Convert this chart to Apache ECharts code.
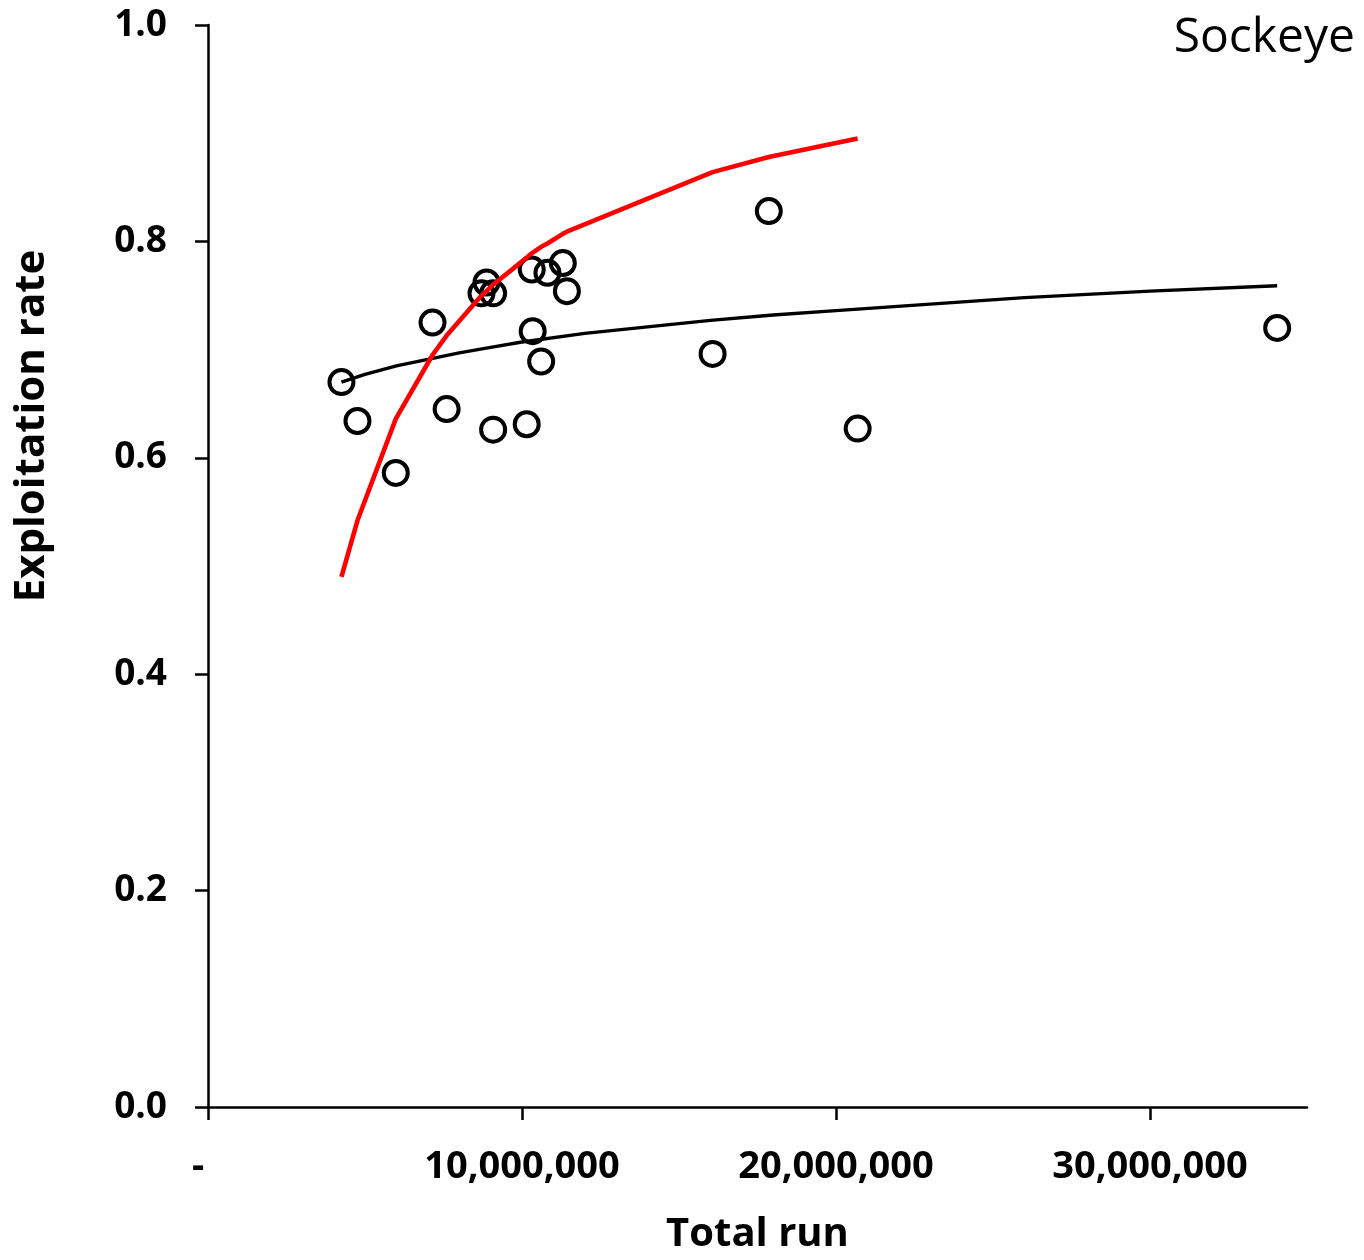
<!DOCTYPE html>
<html>
<head>
<meta charset="utf-8">
<title>Sockeye exploitation rate vs total run</title>
<script src="https://cdn.jsdelivr.net/npm/echarts@6/dist/echarts.min.js"></script>
<style>
  html, body { margin: 0; padding: 0; background: #fff; }
  #chart { width: 1364px; height: 1260px; }
</style>
</head>
<body>
<div id="chart"></div>
<script>
// Observed years: total run and exploitation rate
const runs = [4.25e6, 4.76e6, 5.98e6, 7.15e6, 7.60e6, 8.71e6, 8.87e6, 9.08e6, 9.08e6, 10.15e6,
              10.31e6, 10.34e6, 10.61e6, 10.81e6, 11.30e6, 11.43e6, 16.07e6, 17.86e6, 20.69e6, 34.05e6];
const rates = [0.670, 0.634, 0.586, 0.725, 0.645, 0.752, 0.762, 0.752, 0.626, 0.631,
               0.774, 0.717, 0.689, 0.771, 0.780, 0.754, 0.696, 0.828, 0.627, 0.720];

// Fixed-escapement curve (red)
const escRuns = [4.25e6, 4.76e6, 5.98e6, 7.15e6, 7.60e6, 8.71e6, 8.87e6, 9.08e6, 10.15e6, 10.31e6,
                 10.34e6, 10.61e6, 10.81e6, 11.30e6, 11.43e6, 16.07e6, 17.86e6, 20.69e6];
const escRates = [0.490, 0.542, 0.636, 0.695, 0.713, 0.750, 0.754, 0.760, 0.785, 0.789,
                  0.789, 0.795, 0.798, 0.807, 0.809, 0.864, 0.878, 0.895];

// Logarithmic trend (black)
const trendRuns = [4.25e6, 5e6, 6e6, 7e6, 8e6, 9e6, 10e6, 12e6, 14e6, 16e6,
                   18e6, 20e6, 23e6, 26e6, 30e6, 34.05e6];
const trendRates = [0.670, 0.677, 0.685, 0.691, 0.697, 0.702, 0.707, 0.715, 0.721, 0.727,
                    0.732, 0.736, 0.742, 0.748, 0.754, 0.759];

const xTicks = [0, 10000000, 20000000, 30000000];
const yTicks = [0, 0.2, 0.4, 0.6, 0.8, 1.0];

const pairs = (xs, ys) => xs.map((x, i) => [x, ys[i]]);
const font = '"Open Sans", "Noto Sans", sans-serif';

const chart = echarts.init(document.getElementById('chart'), null, { renderer: 'canvas' });
chart.setOption({
  animation: false,
  backgroundColor: '#ffffff',
  grid: { left: 208, top: 25, right: 57, bottom: 151, containLabel: false },
  xAxis: {
    type: 'value',
    min: 0,
    max: 35000000,
    interval: 10000000,
    splitLine: { show: false },
    axisLine: { show: true, onZero: false, lineStyle: { color: '#000', width: 2.5 } },
    axisTick: { show: true, inside: false, length: 13, customValues: xTicks, lineStyle: { color: '#000', width: 2.5 } },
    axisLabel: {
      customValues: xTicks,
      margin: 41,
      color: '#000',
      fontFamily: font,
      fontWeight: 'bold',
      fontSize: 38,
      formatter: v => v === 0 ? '-\u00a0\u00a0' : v.toLocaleString('en-US')
    },
    name: 'Total run',
    nameLocation: 'middle',
    nameGap: 108,
    nameTextStyle: { color: '#000', fontFamily: font, fontWeight: 'bold', fontSize: 40 }
  },
  yAxis: {
    type: 'value',
    min: 0,
    max: 1,
    interval: 0.2,
    splitLine: { show: false },
    axisLine: { show: true, onZero: false, lineStyle: { color: '#000', width: 2.5 } },
    axisTick: { show: true, inside: false, length: 13, customValues: yTicks, lineStyle: { color: '#000', width: 2.5 } },
    axisLabel: {
      customValues: yTicks,
      margin: 41,
      color: '#000',
      fontFamily: font,
      fontWeight: 'bold',
      fontSize: 37,
      formatter: v => v.toFixed(1)
    }
  },
  graphic: [
    {
      type: 'text',
      x: 32,
      y: 426,
      rotation: Math.PI / 2,
      style: {
        text: 'Exploitation rate',
        fill: '#000',
        font: 'bold 42px ' + font,
        align: 'center',
        verticalAlign: 'middle'
      }
    },
    {
      type: 'text',
      right: 9,
      top: 14,
      style: {
        text: 'Sockeye',
        fill: '#000',
        font: '48px ' + font
      }
    }
  ],
  series: [
    {
      type: 'scatter',
      data: pairs(runs, rates),
      symbol: 'circle',
      symbolSize: 24,
      itemStyle: { color: 'rgba(255,255,255,0)', borderColor: '#000', borderWidth: 4, opacity: 1 },
      z: 2
    },
    {
      type: 'line',
      data: pairs(trendRuns, trendRates),
      showSymbol: false,
      lineStyle: { color: '#000', width: 3.4 },
      z: 3
    },
    {
      type: 'line',
      data: pairs(escRuns, escRates),
      showSymbol: false,
      lineStyle: { color: '#ff0000', width: 4.6 },
      z: 4
    }
  ]
});
</script>
</body>
</html>
